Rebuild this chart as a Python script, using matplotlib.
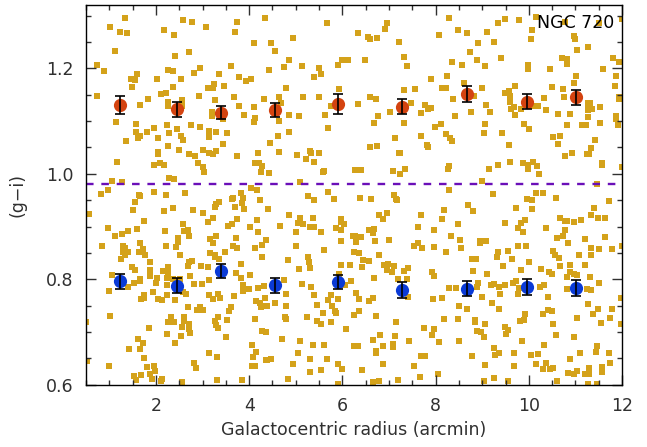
import numpy as np
import matplotlib
matplotlib.use("Agg")
import matplotlib.pyplot as plt
from matplotlib.ticker import MultipleLocator

# radial bins (arcmin) and mean (g-i) colours of the two GC subpopulations
rad = [1.23, 2.46, 3.39, 4.55, 5.91, 7.28, 8.67, 9.97, 11.02]
red_gi = [1.131, 1.122, 1.116, 1.121, 1.132, 1.127, 1.151, 1.137, 1.145]
red_err = [0.017, 0.0145, 0.013, 0.014, 0.019, 0.014, 0.015, 0.014, 0.014]
blue_gi = [0.796, 0.788, 0.816, 0.789, 0.795, 0.780, 0.782, 0.786, 0.784]
blue_err = [0.015, 0.014, 0.014, 0.014, 0.013, 0.015, 0.014, 0.015, 0.015]
split = 0.98

# individual globular clusters (radius, g-i)
field_pts = [
    (4.33, 1.296), (1.344, 1.296), (1.022, 1.279), (2.589, 1.292), (2.782, 1.288), (3.082, 1.279),
    (3.747, 1.288), (1.237, 1.268), (1.387, 1.266), (2.181, 1.273), (2.396, 1.264), (3.705, 1.268),
    (4.112, 1.247), (1.129, 1.233), (2.417, 1.224), (2.717, 1.230), (0.743, 1.207), (0.893, 1.194),
    (1.602, 1.190), (1.473, 1.180), (1.544, 1.177), (1.494, 1.164), (2.031, 1.180), (2.267, 1.196),
    (2.374, 1.194), (2.546, 1.180), (2.825, 1.192), (2.954, 1.201), (3.619, 1.205), (3.361, 1.190),
    (3.790, 1.184), (3.941, 1.175), (4.048, 1.179), (3.254, 1.171), (3.125, 1.162), (3.225, 1.162),
    (3.469, 1.167), (2.374, 1.165), (2.117, 1.152), (2.224, 1.154), (0.743, 1.148), (1.838, 1.141),
    (1.666, 1.131), (2.267, 1.137), (2.267, 1.129), (2.567, 1.139), (2.567, 1.129), (2.932, 1.148),
    (3.275, 1.139), (3.683, 1.146), (3.790, 1.129), (4.327, 1.141), (4.112, 1.126), (3.898, 1.112),
    (3.211, 1.118), (3.211, 1.110), (3.447, 1.103), (4.134, 1.105), (4.112, 1.099), (1.151, 1.099),
    (1.580, 1.095), (2.245, 1.093), (2.760, 1.093), (1.966, 1.086), (2.954, 1.088),
    (5.679, 1.286), (6.967, 1.285), (6.924, 1.275), (6.344, 1.266), (6.559, 1.260), (6.602, 1.256),
    (6.752, 1.258), (4.950, 1.258), (4.477, 1.247), (4.563, 1.232), (7.224, 1.250), (8.083, 1.264),
    (4.864, 1.216), (4.756, 1.203), (5.143, 1.205), (5.508, 1.201), (5.550, 1.190), (5.400, 1.184),
    (5.915, 1.207), (6.001, 1.216), (6.130, 1.216), (6.495, 1.216), (7.332, 1.222), (7.396, 1.205),
    (4.435, 1.197), (7.911, 1.180), (8.235, 1.186), (4.799, 1.162), (4.649, 1.145), (4.692, 1.135),
    (5.164, 1.145), (5.508, 1.146), (5.937, 1.160), (5.765, 1.128), (6.344, 1.133), (6.602, 1.145),
    (6.731, 1.141), (7.332, 1.158), (7.568, 1.160), (7.482, 1.135), (7.031, 1.118), (6.774, 1.109),
    (6.688, 1.097), (7.332, 1.097), (7.696, 1.116), (7.782, 1.131), (7.847, 1.122), (7.911, 1.124),
    (8.147, 1.162), (8.233, 1.163), (4.864, 1.112), (5.078, 1.109), (5.636, 1.112), (4.649, 1.101),
    (8.126, 1.095), (7.997, 1.088), (5.701, 1.086),
    (8.297, 1.296), (9.498, 1.294), (9.348, 1.286), (9.799, 1.292), (8.490, 1.273), (8.683, 1.266),
    (9.112, 1.268), (8.919, 1.247), (9.262, 1.249), (8.747, 1.230), (10.078, 1.273), (10.056, 1.256),
    (10.786, 1.288), (11.515, 1.285), (10.156, 1.298), (11.995, 1.294), (10.979, 1.262), (11.000, 1.256),
    (11.043, 1.235), (11.279, 1.241), (8.361, 1.211), (8.576, 1.207), (8.897, 1.215), (9.069, 1.205),
    (9.412, 1.220), (9.992, 1.207), (9.992, 1.199), (10.464, 1.198), (10.722, 1.220), (10.829, 1.218),
    (10.829, 1.209), (11.816, 1.220), (11.945, 1.211), (11.601, 1.198), (8.618, 1.173), (11.022, 1.186),
    (10.979, 1.173), (11.880, 1.186), (11.859, 1.167), (9.005, 1.162), (9.498, 1.154), (9.584, 1.156),
    (9.713, 1.167), (9.606, 1.148), (9.606, 1.137), (9.627, 1.122), (9.691, 1.126), (9.713, 1.111),
    (9.842, 1.122), (8.382, 1.141), (8.833, 1.148), (9.091, 1.131), (8.769, 1.118), (8.425, 1.109),
    (9.176, 1.118), (9.069, 1.095), (9.906, 1.095), (10.078, 1.128), (10.206, 1.129), (10.335, 1.143),
    (10.378, 1.120), (10.507, 1.165), (10.743, 1.160), (10.764, 1.146), (10.636, 1.114), (10.893, 1.114),
    (10.829, 1.092), (11.151, 1.093), (11.237, 1.092), (11.279, 1.135), (11.322, 1.135), (11.279, 1.128),
    (11.279, 1.120), (11.365, 1.122), (11.537, 1.126), (11.279, 1.107), (11.537, 1.097), (11.880, 1.109),
    (11.880, 1.103), (11.923, 1.093), (11.945, 1.146), (11.945, 1.141),
    (1.580, 1.080), (1.666, 1.071), (1.623, 1.067), (1.816, 1.080), (2.288, 1.078), (2.460, 1.084),
    (2.546, 1.071), (2.589, 1.065), (3.147, 1.082), (3.147, 1.069), (3.297, 1.080), (3.533, 1.078),
    (1.366, 1.063), (2.052, 1.067), (2.052, 1.042), (2.052, 1.037), (2.267, 1.052), (2.503, 1.046),
    (2.717, 1.037), (2.846, 1.033), (3.018, 1.046), (3.147, 1.039), (3.232, 1.037), (3.297, 1.044),
    (3.447, 1.057), (3.747, 1.033), (4.198, 1.039), (1.172, 1.023), (1.966, 1.016), (2.095, 1.020),
    (2.181, 1.016), (2.911, 1.020), (3.018, 1.012), (3.039, 1.004), (4.134, 1.021), (4.220, 1.020),
    (4.284, 1.014), (4.263, 1.004), (2.288, 0.993), (2.396, 0.991), (1.065, 0.986), (1.280, 0.984),
    (4.048, 0.974), (4.177, 0.970), (0.979, 0.969), (0.829, 0.961), (1.644, 0.959), (1.666, 0.957),
    (1.559, 0.946), (1.966, 0.965), (2.224, 0.959), (2.632, 0.963), (1.516, 0.931), (2.181, 0.929),
    (2.374, 0.936), (2.803, 0.931), (3.018, 0.925), (3.275, 0.938), (3.297, 0.942), (3.361, 0.946),
    (3.640, 0.952), (3.662, 0.955), (3.833, 0.963), (3.876, 0.955), (3.705, 0.938), (3.855, 0.944),
    (3.898, 0.933), (4.241, 0.950), (0.572, 0.923), (1.752, 0.910), (3.232, 0.916), (3.125, 0.908),
    (3.747, 0.914), (3.554, 0.902), (3.640, 0.904), (2.589, 0.904), (4.027, 0.900), (4.177, 0.912),
    (0.979, 0.898), (1.602, 0.895), (1.408, 0.891), (1.280, 0.885), (1.129, 0.882), (2.202, 0.891),
    (2.610, 0.891), (2.696, 0.893), (2.717, 0.882), (2.481, 0.878), (2.481, 0.870), (2.438, 0.861),
    (2.224, 0.863), (1.666, 0.868), (1.730, 0.857), (1.644, 0.851), (1.773, 0.847), (1.301, 0.863),
    (1.344, 0.859), (1.301, 0.851), (1.408, 0.851), (1.344, 0.846), (0.850, 0.863), (3.168, 0.876),
    (3.232, 0.868), (3.297, 0.883), (3.726, 0.878), (3.662, 0.864), (3.747, 0.859), (3.490, 0.851),
    (3.168, 0.849), (3.275, 0.847), (4.198, 0.889), (4.370, 0.874), (4.284, 0.866), (4.134, 0.859),
    (2.524, 0.846),
    (4.864, 1.080), (4.628, 1.071), (4.456, 1.059), (4.649, 1.042), (5.035, 1.035), (5.314, 1.044),
    (5.336, 1.039), (5.508, 1.040), (5.229, 1.029), (5.400, 1.023), (4.435, 1.001), (5.593, 1.003),
    (5.615, 1.006), (5.100, 0.984), (6.280, 1.008), (6.409, 1.008), (6.602, 1.050), (6.752, 1.052),
    (7.138, 1.067), (7.224, 1.040), (7.246, 1.039), (7.696, 1.071), (7.825, 1.054), (7.847, 1.050),
    (8.233, 1.075), (7.095, 1.006), (7.353, 1.010), (7.246, 0.999), (5.701, 0.965), (5.271, 0.957),
    (5.400, 0.950), (5.829, 0.952), (6.387, 0.955), (6.623, 0.952), (7.117, 0.959), (7.160, 0.952),
    (7.181, 0.950), (4.413, 0.933), (4.864, 0.921), (5.100, 0.916), (5.057, 0.906), (5.164, 0.904),
    (5.379, 0.916), (5.314, 0.899), (5.400, 0.900), (4.671, 0.902), (5.014, 0.889), (5.551, 0.889),
    (5.980, 0.914), (5.980, 0.908), (6.044, 0.904), (5.872, 0.897), (5.980, 0.893), (6.237, 0.883),
    (6.280, 0.883), (6.409, 0.880), (6.301, 0.870), (5.980, 0.872), (6.580, 0.893), (6.688, 0.895),
    (6.666, 0.887), (6.795, 0.921), (6.881, 0.914), (6.967, 0.925), (6.709, 0.872), (7.010, 0.874),
    (7.696, 0.921), (7.632, 0.900), (8.190, 0.931), (8.147, 0.914), (7.976, 0.893), (7.546, 0.864),
    (7.632, 0.868), (7.718, 0.859), (7.976, 0.861), (8.233, 0.851), (5.014, 0.863), (5.615, 0.855),
    (6.259, 0.851), (6.366, 0.849), (6.795, 0.846),
    (8.318, 1.067), (8.361, 1.063), (9.048, 1.078), (9.434, 1.078), (10.013, 1.084), (9.584, 1.054),
    (10.528, 1.069), (10.678, 1.071), (10.636, 1.056), (11.429, 1.065), (11.344, 1.048), (11.258, 1.037),
    (11.301, 1.037), (10.936, 1.040), (10.786, 1.033), (11.580, 1.020), (11.580, 1.016), (8.297, 1.014),
    (8.275, 1.010), (9.155, 1.010), (9.348, 1.016), (9.606, 1.023), (9.885, 1.020), (9.992, 1.016),
    (9.992, 1.010), (10.099, 1.023), (10.185, 1.014), (10.228, 0.999), (11.99, 1.012), (9.005, 0.987),
    (11.472, 0.980), (8.297, 0.970), (9.241, 0.961), (10.164, 0.963), (10.314, 0.963), (9.970, 0.952),
    (10.078, 0.950), (10.593, 0.955), (8.704, 0.940), (8.812, 0.929), (9.734, 0.936), (10.078, 0.934),
    (11.730, 0.948), (11.408, 0.936), (8.490, 0.904), (9.498, 0.906), (9.842, 0.906), (9.927, 0.912),
    (9.777, 0.897), (9.885, 0.889), (10.378, 0.897), (10.678, 0.916), (10.786, 0.910), (10.829, 0.910),
    (10.979, 0.908), (11.129, 0.912), (11.344, 0.921), (11.494, 0.916), (11.644, 0.917), (10.786, 0.893),
    (10.743, 0.883), (10.614, 0.878), (10.850, 0.868), (11.215, 0.876), (11.644, 0.880), (8.339, 0.882),
    (8.533, 0.874), (8.554, 0.859), (8.962, 0.872), (8.962, 0.868), (9.091, 0.872), (9.348, 0.851),
    (9.563, 0.853), (9.777, 0.864), (9.949, 0.864), (10.528, 0.853), (10.571, 0.847), (11.086, 0.847),
    (11.344, 0.859), (11.344, 0.846), (11.515, 0.857), (11.794, 0.857), (11.99, 0.864),
    (1.258, 0.838), (1.881, 0.832), (1.494, 0.823), (1.559, 0.817), (1.881, 0.817), (1.881, 0.806),
    (2.160, 0.815), (2.267, 0.823), (2.267, 0.812), (2.245, 0.802), (2.031, 0.802), (2.009, 0.794),
    (1.666, 0.800), (1.666, 0.796), (1.537, 0.794), (1.408, 0.785), (1.065, 0.808), (1.001, 0.777),
    (1.945, 0.776), (2.245, 0.789), (2.245, 0.770), (2.052, 0.762), (2.138, 0.760), (1.752, 0.770),
    (1.752, 0.764), (1.687, 0.762), (2.374, 0.800), (2.524, 0.800), (2.589, 0.776), (2.653, 0.772),
    (2.417, 0.760), (2.696, 0.825), (2.717, 0.832), (2.782, 0.834), (2.975, 0.825), (3.125, 0.823),
    (2.739, 0.806), (2.825, 0.791), (2.996, 0.791), (3.147, 0.798), (3.275, 0.842), (3.361, 0.838),
    (3.833, 0.830), (4.284, 0.842), (3.726, 0.812), (3.833, 0.802), (4.027, 0.808), (3.876, 0.789),
    (3.876, 0.777), (4.005, 0.781), (4.198, 0.783), (4.327, 0.787), (3.147, 0.770), (3.232, 0.762),
    (3.340, 0.772), (3.383, 0.764), (3.683, 0.768), (4.155, 0.759), (4.241, 0.755), (4.263, 0.747),
    (4.370, 0.749), (4.348, 0.764), (2.696, 0.747), (2.889, 0.741), (2.954, 0.747), (3.018, 0.741),
    (3.619, 0.747), (3.576, 0.740), (1.022, 0.730), (2.331, 0.728), (2.267, 0.719), (2.396, 0.719),
    (2.610, 0.728), (2.610, 0.721), (2.717, 0.715), (2.717, 0.706), (2.739, 0.698), (2.567, 0.709),
    (2.546, 0.692), (2.245, 0.696), (1.859, 0.707), (3.275, 0.721), (3.297, 0.713), (3.340, 0.707),
    (3.340, 0.728), (3.533, 0.723), (4.134, 0.724), (4.284, 0.702), (4.370, 0.700), (3.512, 0.690),
    (1.623, 0.687), (1.730, 0.679), (2.417, 0.679), (1.430, 0.668), (1.666, 0.668), (4.069, 0.675),
    (4.155, 0.662), (3.147, 0.660), (3.318, 0.653), (4.091, 0.653), (4.370, 0.647), (1.752, 0.651),
    (0.529, 0.645), (1.001, 0.636), (1.816, 0.634), (1.966, 0.636), (1.988, 0.626), (1.881, 0.620),
    (1.687, 0.618), (1.537, 0.617), (1.580, 0.609), (1.923, 0.611), (2.138, 0.611), (2.117, 0.607),
    (2.567, 0.605), (2.825, 0.641), (2.868, 0.632), (3.318, 0.609), (3.855, 0.609), (4.069, 0.636),
    (4.134, 0.636), (0.505, 0.719),
    (4.842, 0.836), (5.271, 0.842), (5.293, 0.832), (5.314, 0.821), (5.078, 0.819), (4.756, 0.798),
    (5.143, 0.791), (5.336, 0.785), (4.799, 0.772), (4.563, 0.755), (4.392, 0.749), (4.799, 0.749),
    (4.778, 0.728), (4.799, 0.724), (5.400, 0.770), (5.701, 0.760), (5.765, 0.770), (5.465, 0.751),
    (5.915, 0.762), (5.787, 0.749), (5.851, 0.740), (5.872, 0.736), (5.593, 0.736), (5.250, 0.728),
    (5.465, 0.721), (5.551, 0.715), (5.765, 0.719), (5.980, 0.827), (6.173, 0.827), (5.937, 0.810),
    (6.066, 0.789), (6.194, 0.796), (6.430, 0.823), (6.452, 0.836), (6.580, 0.834), (6.688, 0.802),
    (6.301, 0.774), (6.366, 0.762), (6.580, 0.759), (6.666, 0.764), (6.366, 0.740), (6.259, 0.732),
    (6.731, 0.730), (6.087, 0.706), (6.903, 0.827), (6.988, 0.830), (6.967, 0.817), (7.074, 0.813),
    (7.117, 0.825), (7.332, 0.815), (7.417, 0.821), (7.203, 0.800), (7.396, 0.800), (7.417, 0.766),
    (7.932, 0.813), (7.975, 0.806), (7.954, 0.762), (8.147, 0.764), (8.190, 0.724), (7.160, 0.719),
    (7.761, 0.707), (7.975, 0.706), (7.932, 0.694), (8.083, 0.681), (7.439, 0.683), (7.138, 0.692),
    (6.817, 0.694), (6.666, 0.685), (6.881, 0.673), (7.095, 0.677), (7.095, 0.671), (6.731, 0.664),
    (6.731, 0.660), (6.259, 0.673), (6.344, 0.673), (5.100, 0.683), (4.713, 0.687), (5.379, 0.675),
    (5.615, 0.675), (5.057, 0.660), (5.314, 0.649), (5.679, 0.649), (4.477, 0.649), (4.392, 0.647),
    (4.950, 0.639), (5.915, 0.639), (6.001, 0.630), (5.551, 0.628), (5.314, 0.624), (6.430, 0.628),
    (6.881, 0.639), (7.696, 0.654), (7.782, 0.654), (7.546, 0.635), (8.061, 0.620), (7.675, 0.615),
    (4.842, 0.611), (7.203, 0.609), (6.795, 0.607), (6.666, 0.605), (5.915, 0.601),
    (8.790, 0.838), (8.876, 0.838), (9.327, 0.842), (9.649, 0.838), (10.013, 0.832), (10.657, 0.840),
    (9.455, 0.825), (9.842, 0.817), (9.112, 0.811), (8.812, 0.815), (10.271, 0.819), (10.443, 0.813),
    (10.507, 0.811), (10.678, 0.825), (10.893, 0.827), (11.215, 0.828), (10.893, 0.813), (10.979, 0.810),
    (11.043, 0.808), (10.829, 0.804), (11.322, 0.804), (11.515, 0.794), (8.919, 0.794), (8.897, 0.785),
    (8.297, 0.783), (8.447, 0.783), (9.198, 0.789), (9.262, 0.791), (9.369, 0.785), (9.498, 0.789),
    (9.670, 0.794), (9.734, 0.796), (9.799, 0.783), (9.777, 0.772), (9.391, 0.772), (9.005, 0.766),
    (10.249, 0.785), (10.335, 0.789), (10.421, 0.766), (10.829, 0.781), (11.258, 0.781), (11.344, 0.779),
    (9.219, 0.755), (8.511, 0.749), (8.683, 0.743), (9.369, 0.743), (11.279, 0.753), (11.494, 0.743),
    (11.794, 0.743), (11.387, 0.734), (10.421, 0.741), (10.507, 0.740), (10.314, 0.734), (9.927, 0.734),
    (8.490, 0.724), (8.855, 0.722), (8.855, 0.719), (9.069, 0.715), (9.820, 0.721), (9.906, 0.722),
    (9.498, 0.709), (9.563, 0.704), (9.520, 0.696), (8.897, 0.702), (8.983, 0.700), (9.048, 0.690),
    (10.528, 0.715), (10.593, 0.694), (11.043, 0.726), (11.558, 0.717), (11.751, 0.726), (11.987, 0.715),
    (10.979, 0.690), (8.511, 0.683), (9.863, 0.683), (10.335, 0.675), (9.262, 0.670), (9.369, 0.660),
    (9.284, 0.656), (9.691, 0.660), (8.790, 0.654), (10.056, 0.656), (10.206, 0.658), (10.893, 0.649),
    (11.108, 0.660), (11.451, 0.662), (11.472, 0.673), (11.730, 0.660), (9.069, 0.637), (9.691, 0.636),
    (10.164, 0.639), (10.378, 0.641), (10.314, 0.630), (10.464, 0.630), (10.528, 0.632), (10.850, 0.622),
    (10.979, 0.620), (11.043, 0.626), (11.215, 0.620), (11.301, 0.620), (11.301, 0.632), (11.580, 0.634),
    (11.580, 0.624), (11.751, 0.641), (9.262, 0.613), (9.048, 0.607), (9.563, 0.607), (10.614, 0.607),
    (11.279, 0.601), (11.472, 0.601), (11.987, 0.764),
]
field_r = [p[0] for p in field_pts]
field_gi = [p[1] for p in field_pts]

fig = plt.figure(figsize=(6.47, 4.47), dpi=100)
ax = fig.add_axes([0.133, 0.139, 0.8284, 0.8499])

ax.scatter(field_r, field_gi, marker='s', s=14, color='#d4a21a', linewidths=0, zorder=1)
ax.axhline(split, color='#6a0fb8', lw=1.7, dashes=(3.2, 3.3), zorder=2)

ax.plot(rad, red_gi, 'o', ms=9.5, color='#d44310', mec='none', zorder=3)
ax.errorbar(rad, red_gi, yerr=red_err, fmt='none', ecolor='black', elinewidth=1.2,
            capsize=3.5, capthick=1.2, zorder=4)
ax.plot(rad, blue_gi, 'o', ms=9.5, color='#0a3ad6', mec='none', zorder=3)
ax.errorbar(rad, blue_gi, yerr=blue_err, fmt='none', ecolor='black', elinewidth=1.2,
            capsize=3.5, capthick=1.2, zorder=4)

ax.set_xlim(0.5, 12)
ax.set_ylim(0.6, 1.32)
ax.xaxis.set_major_locator(MultipleLocator(2))
ax.xaxis.set_minor_locator(MultipleLocator(0.5))
ax.yaxis.set_major_locator(MultipleLocator(0.2))
ax.yaxis.set_minor_locator(MultipleLocator(0.05))
ax.tick_params(which='both', direction='in', top=True, right=True, labelsize=12.5, pad=9,
               colors='#303030')
ax.tick_params(which='major', length=7, width=1)
ax.tick_params(which='minor', length=3.5, width=1)
for s in ax.spines.values():
    s.set_linewidth(1)

ax.set_xlabel('Galactocentric radius (arcmin)', fontsize=12.5, color='#303030', labelpad=4)
ax.set_ylabel('(g\u2212i)', fontsize=12.5, color='#303030', labelpad=14)
ax.text(0.985, 0.975, 'NGC 720', transform=ax.transAxes, ha='right', va='top', fontsize=12.5)

fig.savefig('out.png', dpi=100)
